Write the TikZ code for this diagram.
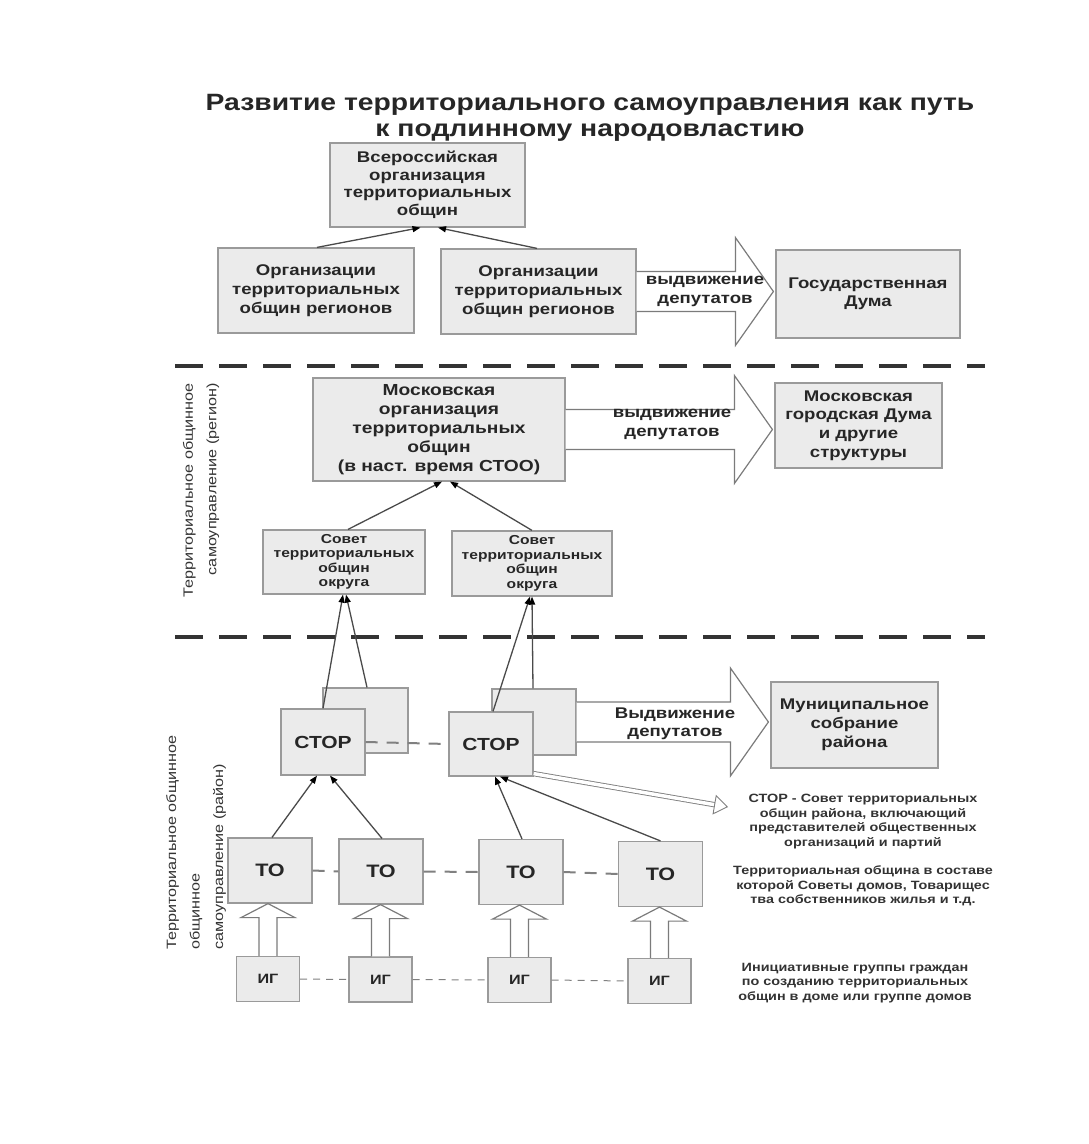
\documentclass[tikz,border=0pt]{standalone}
\usepackage{fontspec}
\setmainfont{Liberation Sans}[FakeStretch=1.2]
\usetikzlibrary{arrows.meta,positioning,calc}

\definecolor{boxfill}{HTML}{EBEBEB}
\definecolor{boxline}{HTML}{9A9A9A}
\definecolor{linegray}{HTML}{4A4A4A}

\tikzset{
  box/.style={draw=boxline, fill=boxfill, line width=1.2pt, align=center, inner sep=0pt,
    text=black!85, font=\bfseries\fontsize{15.5}{19}\selectfont},
  conn/.style={draw=linegray, line width=1.3pt, ->},
  hollow/.style={draw=boxline!80!black, line width=1.2pt, fill=white},
  sep/.style={draw=black!80, line width=3.5pt, dash pattern=on 28pt off 16pt},
  link/.style={draw=gray, line width=2pt, dash pattern=on 12pt off 9pt},
  thinlink/.style={draw=gray, line width=1pt, dash pattern=on 7pt off 6pt},
  note/.style={align=center, text=black!80, font=\bfseries\fontsize{12}{14.4}\selectfont},
  side/.style={rotate=90, inner sep=0pt, text=black!80, font=\fontsize{13.5}{23.5}\selectfont},
  legarrow/.style={draw=gray, line width=0.9pt, double=white, double distance=3.5pt,
    -{Triangle[open, length=14pt, width=20pt]}}
}

% wide hollow arrow: #1 from, #2 to, #3 name of tip
\newcommand{\bigarrow}[3]{%
  \coordinate (#3) at (#2.west |- #1.east);
  \draw[hollow] ($(#1.east)+(0,-20)$) -- ($(#3)+(-40,-20)$) -- ($(#3)+(-40,-54)$)
    -- ($(#3)+(-2,0)$) -- ($(#3)+(-40,54)$) -- ($(#3)+(-40,20)$) -- ($(#1.east)+(0,20)$);}
% small hollow arrow up: #1 from (ИГ), #2 to (ТО)
\newcommand{\igarrow}[2]{%
  \coordinate (t#1) at (#1.north |- #2.south);
  \draw[hollow] ($(#1.north)+(-9,0)$) -- ($(t#1)+(-9,14)$) -- ($(t#1)+(-27,14)$) -- (t#1)
    -- ($(t#1)+(27,14)$) -- ($(t#1)+(9,14)$) -- ($(#1.north)+(9,0)$);}

\begin{document}
\begin{tikzpicture}[x=1pt, y=-1pt, >={Triangle[length=8pt, width=6pt, color=black]}]
  \useasboundingbox (0,0) rectangle (1088,1144);

  \node[align=center, text=black!85, font=\bfseries\fontsize{23.6}{26}\selectfont] (title) at (590,118)
    {Развитие территориального самоуправления как путь\\к подлинному народовластию};

  % top level
  \node[box, minimum width=195, minimum height=84, font=\bfseries\fontsize{15.5}{17.5}\selectfont] (vso) at (427.5,185)
    {Всероссийская\\организация\\территориальных\\общин};
  \node[box, minimum width=196, minimum height=85] (orgL) at (316,290.5)
    {Организации\\территориальных\\общин регионов};
  \node[box, minimum width=195, minimum height=85] (orgR) at (538.5,291.5)
    {Организации\\территориальных\\общин регионов};
  \node[box, minimum width=184, minimum height=88, font=\bfseries\fontsize{15.5}{18.5}\selectfont] (duma) at (868,294)
    {Государственная\\Дума};

  \draw[conn] ([xshift=1pt]orgL.north) -- ([xshift=-7pt]vso.south); % orgL -> vso
  \draw[conn] ([xshift=-1.5pt]orgR.north) -- ([xshift=10.5pt]vso.south); % orgR -> vso
  \bigarrow{orgR}{duma}{tipA}
  \node[box, draw=none, fill=none] (lblA) at (705,291) {выдвижение\\депутатов};

  \draw[sep] (175,366) -- (985,366);

  % region
  \node[side, anchor=east, align=right] (sideReg) at (201,383)
    {Территориальное общинное\\самоуправление (регион)};
  \node[box, minimum width=252, minimum height=103, font=\bfseries\fontsize{16}{19}\selectfont] (moscow) at (439,429.5)
    {Московская\\организация\\территориальных\\общин\\(в наст. время  СТОО)};
  \node[box, minimum width=167, minimum height=85, font=\bfseries\fontsize{15.5}{18.7}\selectfont] (mgd) at (858.5,425.5)
    {Московская\\городская Дума\\и другие\\структуры};
  \bigarrow{moscow}{mgd}{tipB}
  \node[box, draw=none, fill=none] (lblB) at (672,424) {выдвижение\\депутатов};

  \node[box, minimum width=162, minimum height=64, font=\bfseries\fontsize{13}{14.5}\selectfont] (sovL) at (344,562)
    {Совет\\территориальных\\общин\\округа};
  \node[box, minimum width=160, minimum height=65, font=\bfseries\fontsize{13}{14.5}\selectfont] (sovR) at (532,563.5)
    {Совет\\территориальных\\общин\\округа};
  \draw[conn] ([xshift=4pt]sovL.north) -- ([xshift=3pt]moscow.south); % sovL -> moscow
  \draw[conn] (sovR.north) -- ([xshift=11pt]moscow.south); % sovR -> moscow

  \draw[sep] (175,637) -- (985,637);

  % district
  \node[side, anchor=west, align=left] (sideRay) at (196,950)
    {Территориальное общинное\\общинное\\самоуправление (район)};

  \node[box, minimum width=85, minimum height=65] (storBackL) at (365.5,720.5) {};
  \node[box, minimum width=84, minimum height=66, font=\bfseries\fontsize{17.5}{19}\selectfont] (storL) at (323,742) {СТОР};
  \node[box, minimum width=84, minimum height=66] (storBackR) at (534,722) {};
  \node[box, minimum width=84, minimum height=64, font=\bfseries\fontsize{17.5}{19}\selectfont] (storR) at (491,744) {СТОР};
  \draw[link] (storL.east) -- (storR.west); % storL - storR

  \draw[conn] (storL.north) -- ([xshift=-1pt]sovL.south);
  \draw[conn] ([xshift=1.5pt]storBackL.north) -- ([xshift=2pt]sovL.south);
  \draw[conn] ([xshift=2pt]storR.north) -- ([xshift=-2pt]sovR.south);
  \draw[conn] ([xshift=-1pt]storBackR.north) -- (sovR.south);

  \node[box, minimum width=167, minimum height=86] (mun) at (854.5,725)
    {Муниципальное\\собрание\\района};
  \bigarrow{storBackR}{mun}{tipC}
  \node[box, draw=none, fill=none, font=\bfseries\fontsize{15.5}{18}\selectfont] (lblC) at (675,724) {Выдвижение\\депутатов};

  \coordinate (legtip) at (728,807);
  \draw[legarrow] ([yshift=3pt]storR.south east) -- (legtip); % storR -> note

  \node[note] (noteStor) at (863,821.5)
    {СТОР - Совет территориальных\\общин района, включающий\\представителей общественных\\организаций и партий};

  % communities
  \foreach \n/\x/\y in {1/270/870.5, 2/381/871.5, 3/521/872, 4/660.5/874}
    \node[box, minimum width=84, minimum height=65, font=\bfseries\fontsize{18}{19}\selectfont] (to\n) at (\x,\y) {ТО};
  \draw[link] (to1.east) -- (to2.west);
  \draw[link] (to2.east) -- (to3.west);
  \draw[link] (to3.east) -- (to4.west);

  \draw[conn] ([xshift=2pt]to1.north) -- ([xshift=-6pt]storL.south); % to1 -> storL
  \draw[conn] ([xshift=1pt]to2.north) -- ([xshift=7pt]storL.south); % to2 -> storL
  \draw[conn] ([xshift=1pt]to3.north) -- ([xshift=4pt]storR.south); % to3 -> storR
  \draw[conn] (to4.north) -- ([xshift=9pt]storR.south); % to4 -> storR

  \node[note, font=\bfseries\fontsize{12}{14.5}\selectfont] (noteTo) at (863,886)
    {Территориальная община в составе\\которой Советы домов, Товарищес\\тва собственников жилья и т.д.};

  % initiative groups
  \foreach \n/\x/\y in {1/268/979, 2/380.5/979.5, 3/519.5/980, 4/659.5/981}
    \node[box, minimum width=63, minimum height=45, font=\bfseries\fontsize{13.5}{14}\selectfont] (ig\n) at (\x,\y) {ИГ};
  \draw[thinlink] (ig1.east) -- (ig2.west);
  \draw[thinlink] (ig2.east) -- (ig3.west);
  \draw[thinlink] (ig3.east) -- (ig4.west);

  \igarrow{ig1}{to1}
  \igarrow{ig2}{to2}
  \igarrow{ig3}{to3}
  \igarrow{ig4}{to4}

  \node[note, font=\bfseries\fontsize{12}{14.5}\selectfont] (noteIg) at (855,983)
    {Инициативные группы граждан\\по созданию территориальных\\общин в доме или группе домов};
\end{tikzpicture}
\end{document}
